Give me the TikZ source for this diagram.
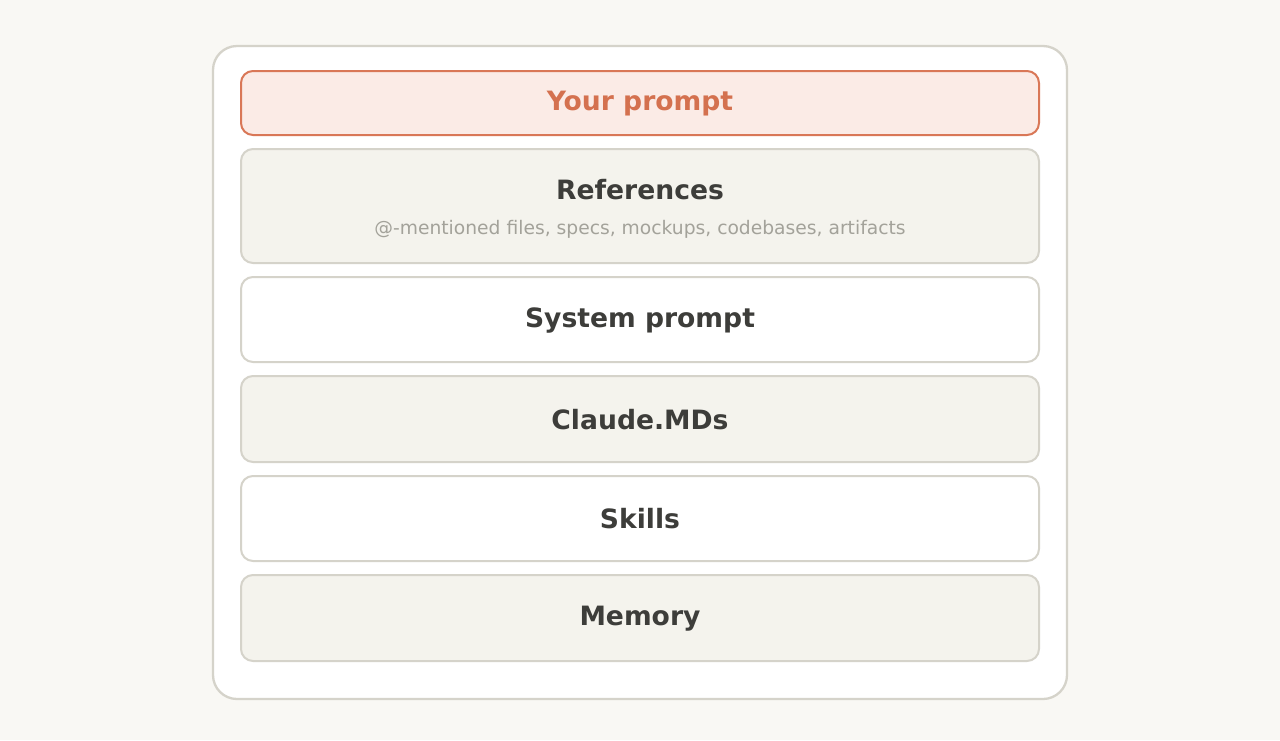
\documentclass[tikz,border=0pt]{standalone}
\usepackage{fontspec}
\setmainfont{DejaVu Sans}
\definecolor{bg}{HTML}{F9F8F4}
\definecolor{edge}{HTML}{D5D3CA}
\definecolor{graybox}{HTML}{F4F3ED}
\definecolor{ink}{HTML}{3D3D3A}
\definecolor{accent}{HTML}{D97757}
\definecolor{accentfill}{HTML}{FBEBE6}
\definecolor{accenttext}{HTML}{D4714F}
\definecolor{subtext}{HTML}{A3A29A}
\tikzset{
  layer/.style={draw=edge, line width=2pt, rounded corners=12pt, minimum width=798pt, inner sep=0pt},
  titletext/.style={font=\fontsize{26.6}{32}\selectfont\bfseries, text=ink},
}
\begin{document}
\begin{tikzpicture}[x=1pt,y=-1pt]
\useasboundingbox (0,0) rectangle (1280,740);
\fill[bg] (0,0) rectangle (1280,740);
\node[draw=edge, fill=white, line width=2.3pt, rounded corners=24pt, minimum width=854pt, minimum height=653pt, inner sep=0pt] (outer) at (640,372.5) {};
\node[layer, draw=accent, fill=accentfill, minimum height=64pt] (prompt) at (640,103) {};
\node[titletext, text=accenttext] (prompttext) at (640,104) {Your prompt};
\node[layer, fill=graybox, minimum height=114pt] (refs) at (640,206) {};
\node[titletext] (refstitle) at (640,190) {References};
\node[font=\fontsize{18.7}{22}\selectfont, text=subtext] (refssub) at (640,229) {@-mentioned files, specs, mockups, codebases, artifacts};
\node[layer, fill=white, minimum height=85pt] (sys) at (640,319.5) {};
\node[titletext] (systext) at (640,320.5) {System prompt};
\node[layer, fill=graybox, minimum height=86pt] (claude) at (640,419) {};
\node[titletext] (claudetext) at (640,419.5) {Claude.MDs};
\node[layer, fill=white, minimum height=85pt] (skills) at (640,518.5) {};
\node[titletext] (skillstext) at (640,519) {Skills};
\node[layer, fill=graybox, minimum height=86pt] (memory) at (640,618) {};
\node[titletext] (memorytext) at (640,618.5) {Memory};
\end{tikzpicture}
\end{document}
